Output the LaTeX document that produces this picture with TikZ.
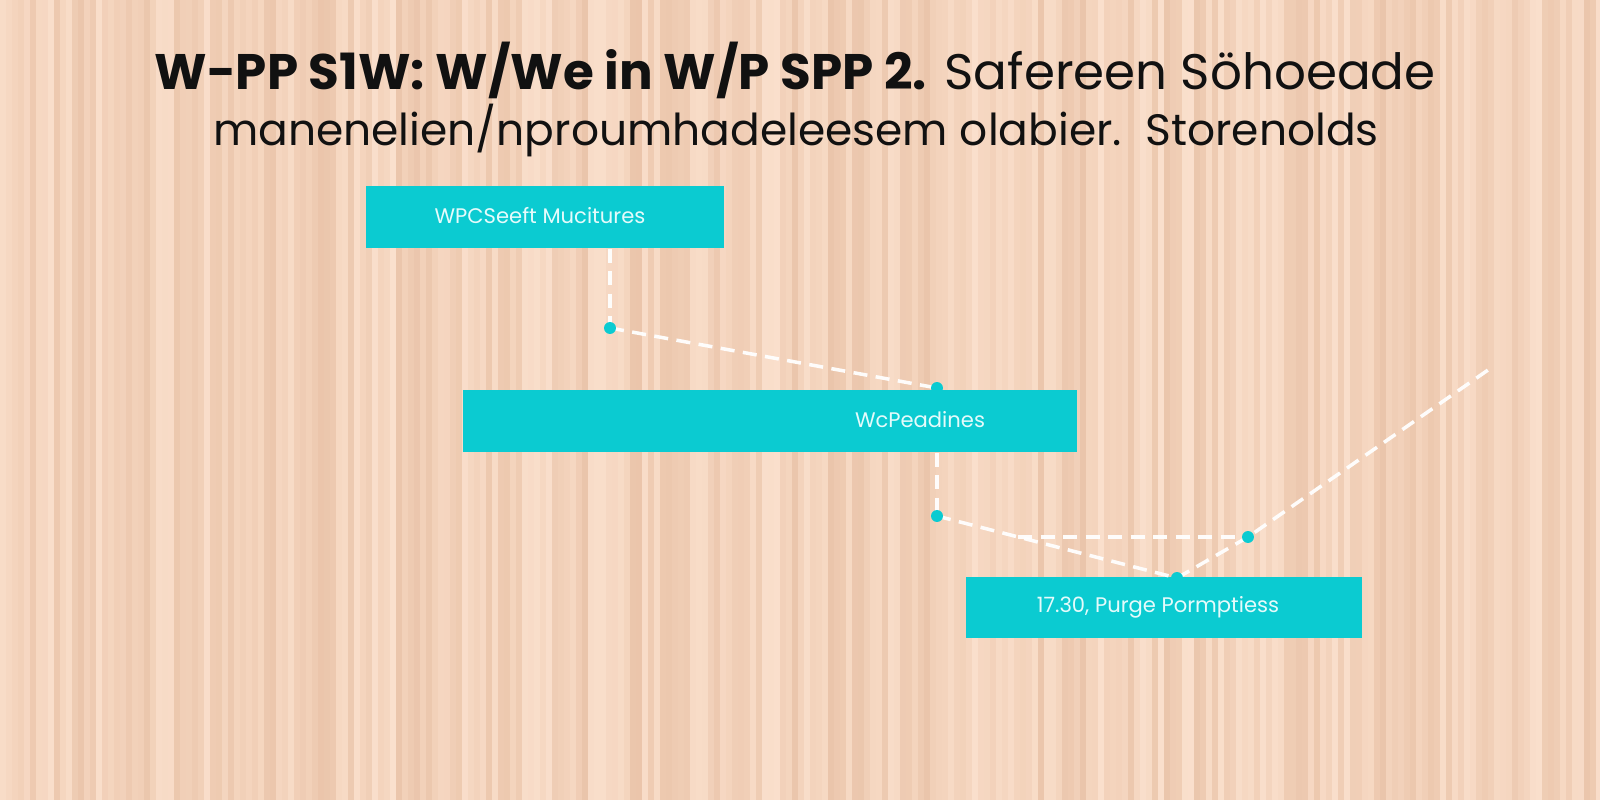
\documentclass[tikz,border=0pt]{standalone}
\usepackage{fontspec}
\setmainfont{Poppins}
\definecolor{bgbase}{HTML}{F4D4BD}
\definecolor{bglight}{HTML}{FCE3D1}
\definecolor{bgdark}{HTML}{E6BEA2}
\definecolor{boxcyan}{HTML}{0BCBD1}
\definecolor{boxtext}{HTML}{E4FBFB}
\definecolor{titleink}{HTML}{111111}
\tikzset{
  flowbox/.style={fill=boxcyan, draw=none, inner sep=0pt},
  boxlabel/.style={text=boxtext, font=\fontsize{6.0}{7}\selectfont, inner sep=0pt},
  linkline/.style={draw=white, line width=1pt, dash pattern=on 4pt off 2.4pt, opacity=0.95},
  joint/.style={circle, fill=boxcyan, inner sep=0pt, minimum size=3.4pt},
}
\begin{document}
\begin{tikzpicture}[x=0.01cm, y=-0.01cm]
\useasboundingbox (0,0) rectangle (1600,800);
% background
\fill[bgbase] (0,0) rectangle (1600,800);
\pgfmathsetseed{11}
\foreach \sx in {0,6,...,1596}{
  \pgfmathtruncatemacro\shade{rnd*100}
  \pgfmathtruncatemacro\pick{rnd*2}
  \ifnum\pick=0
    \fill[bgdark, opacity=\shade/150] (\sx,0) rectangle ++(6,800);
  \else
    \fill[bglight, opacity=\shade/120] (\sx,0) rectangle ++(6,800);
  \fi
}
% titles
\node[text=titleink, font=\fontsize{14.2}{16}\selectfont, inner sep=0pt] (t1) at (795,70)
  {\textbf{W-PP S1W: W/We in W/P SPP 2.} \textmd{Safereen Söhoeade}};
\node[text=titleink, font=\fontsize{12.5}{16}\selectfont, inner sep=0pt] (t2) at (796,131)
  {manenelien/nproumhadeleesem olabier.\ \ Storenolds};
% boxes
\node[flowbox, minimum width=3.58cm, minimum height=0.62cm] (b1) at (545,217) {};
\node[boxlabel] (l1) at (540,216) {WPCSeeft Mucitures};
\node[flowbox, minimum width=6.14cm, minimum height=0.62cm] (b2) at (770,421) {};
\node[boxlabel] (l2) at (920,420) {WcPeadines};
\node[flowbox, minimum width=3.96cm, minimum height=0.61cm] (b3) at (1164,607.5) {};
\node[boxlabel] (l3) at (1158,607) {17.30, Purge Pormptiess};
% joints
\coordinate (j1) at (610,328);
\coordinate (j2) at (937,388);
\coordinate (j3) at (937,516);
\coordinate (j4) at (1248,537);
\coordinate (j5) at (1177,578);
\coordinate (j6) at (1018,537);
\coordinate (tr) at (1488,370);
% connectors
\draw[linkline] (j1 |- b1.south) -- (j1);
\draw[linkline] (j1) -- (j2);
\draw[linkline] (j3 |- b2.south) -- (j3);
\draw[linkline] (j3) -- (j5);
\draw[linkline] (j6) -- (j4);
\draw[linkline] (j5) -- (j4) -- (tr);
% dots
\node[joint] (p1) at (j1) {};
\node[joint] (p2) at (j2) {};
\node[joint] (p3) at (j3) {};
\node[joint] (p4) at (j4) {};
\node[joint] (p5) at (j5) {};
\end{tikzpicture}
\end{document}
